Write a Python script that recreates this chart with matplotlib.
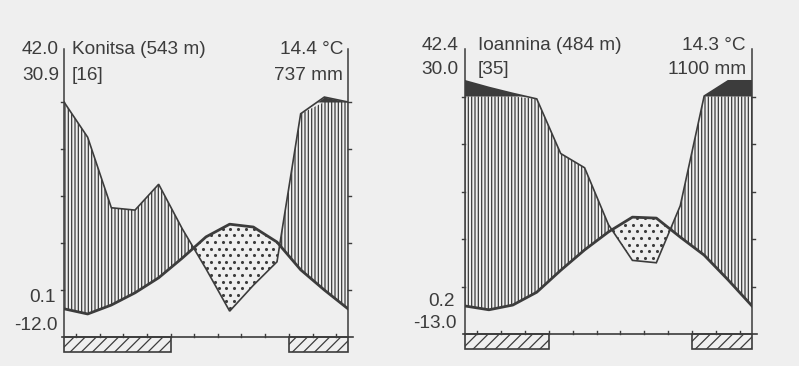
import numpy as np
import matplotlib.pyplot as plt
from matplotlib.patches import Rectangle

W, H = 799, 366
BG = "#efefef"
LC = "#3c3c3c"

# monthly values in drawing order, first month is repeated at the right edge
konitsa_temp = [6.0, 4.9, 6.8, 9.4, 12.6, 16.8, 21.3, 24.0, 23.4, 20.2, 14.3, 10.0]
konitsa_prec = [100, 85, 55, 54, 65, 46, 29, 11, 22, 32, 95, 121]
ioannina_temp = [5.9, 5.1, 6.1, 8.8, 13.4, 17.7, 21.5, 24.6, 24.4, 20.4, 16.6, 11.4]
ioannina_prec = [166, 138, 113, 99, 76, 70, 46, 31, 30, 54, 102, 166]

# months with frost (start, end on the month axis)
konitsa_frost = [(0, 4.5), (9.5, 12)]
ioannina_frost = [(0, 3.5), (9.5, 12)]

stations = ["Konitsa (543 m)", "Ioannina (484 m)"]
years = ["[16]", "[35]"]
abs_max = ["42.0", "42.4"]
mean_max = ["30.9", "30.0"]
mean_min = ["0.1", "0.2"]
abs_min = ["-12.0", "-13.0"]
mean_temp = ["14.4 °C", "14.3 °C"]
annual_prec = ["737 mm", "1100 mm"]

plt.rcParams["font.family"] = ["Liberation Sans", "DejaVu Sans"]
plt.rcParams["hatch.color"] = LC
plt.rcParams["hatch.linewidth"] = 0.9

fig = plt.figure(figsize=(W / 100, H / 100), dpi=100)
fig.patch.set_facecolor(BG)


def scale_prec(p):
    p = np.asarray(p, float)
    return np.where(p <= 100, p / 2.0, 50 + (p - 100) / 20.0)


def make_axes(left, right, base, unit):
    # left/right/base in pixels, unit = pixels per degree
    bot = base + 4 * unit
    top = base - 62 * unit
    ax = fig.add_axes([left / W, 1 - bot / H, (right - left) / W, (bot - top) / H])
    ax.set_xlim(0, 12)
    ax.set_ylim(-4, 62)
    ax.axis("off")
    ax.patch.set_alpha(0)
    return ax


def draw_panel(ax, temp, prec, frost, top):
    x = np.arange(13)
    t = np.r_[temp, temp[0]]
    p = scale_prec(np.r_[prec, prec[0]])

    ax.fill_between(x, t, np.minimum(p, 50), where=p >= t, interpolate=True,
                    facecolor="none", edgecolor=LC, hatch="|||||", linewidth=0)
    ax.fill_between(x, 50, p, where=p > 50, interpolate=True,
                    color=LC, linewidth=0)
    dry = ax.fill_between(x, p, t, where=t > p, interpolate=True,
                          facecolor="none", linewidth=0)
    # staggered dots inside the dry season
    for path in dry.get_paths():
        gx, gy = [], []
        for j, yy in enumerate(np.arange(0.6, 40, 1.4)):
            xs = np.arange(0.1, 12, 0.33) + (j % 2) * 0.165
            gx.extend(xs)
            gy.extend([yy] * len(xs))
        sc = ax.scatter(gx, gy, s=5, color=LC, linewidths=0)
        sc.set_clip_path(path, ax.transData)

    ax.plot(x, p, color=LC, lw=1.2, solid_joinstyle="miter")
    ax.plot(x, t, color=LC, lw=2.0)

    # frame
    ax.plot([0, 0], [0, top], color=LC, lw=1.1, clip_on=False)
    ax.plot([12, 12], [0, top], color=LC, lw=1.1, clip_on=False)
    ax.plot([-0.1, 12.2], [0, 0], color=LC, lw=1.2, clip_on=False)
    for yy in range(10, 51, 10):
        ax.plot([-0.12, 0], [yy, yy], color=LC, lw=1, clip_on=False)
        ax.plot([12, 12.12], [yy, yy], color=LC, lw=1, clip_on=False)
    for xx in np.arange(0.5, 12, 1):
        ax.plot([xx, xx], [0, 0.7], color=LC, lw=1, clip_on=False)

    for a, b in frost:
        ax.add_patch(Rectangle((a, -3.1), b - a, 3.1, facecolor="none",
                               edgecolor=LC, hatch="///", lw=1.2, clip_on=False))


def ptext(x, y, s, ha="left"):
    fig.text(x / W, 1 - y / H, s, ha=ha, va="center", fontsize=13.7, color=LC)


ax1 = make_axes(64, 348, 337, 4.7)
draw_panel(ax1, konitsa_temp, konitsa_prec, konitsa_frost, 61.3)
ax2 = make_axes(465, 752, 334, 4.75)
draw_panel(ax2, ioannina_temp, ioannina_prec, ioannina_frost, 60)

panels = [(59, 72, 343, 50, 76, 298, 326), (458, 478, 746, 45, 69, 301, 323)]
for i, (lx, nx, rx, y1, y2, y3, y4) in enumerate(panels):
    ptext(lx, y1, abs_max[i], "right")
    ptext(lx, y2, mean_max[i], "right")
    ptext(nx, y1, stations[i])
    ptext(nx, y2, years[i])
    ptext(rx, y1, mean_temp[i], "right")
    ptext(rx, y2, annual_prec[i], "right")
    ptext(lx - 3, y3, mean_min[i], "right")
    ptext(lx - 1, y4, abs_min[i], "right")

fig.savefig("out.png", dpi=100, facecolor=BG)
